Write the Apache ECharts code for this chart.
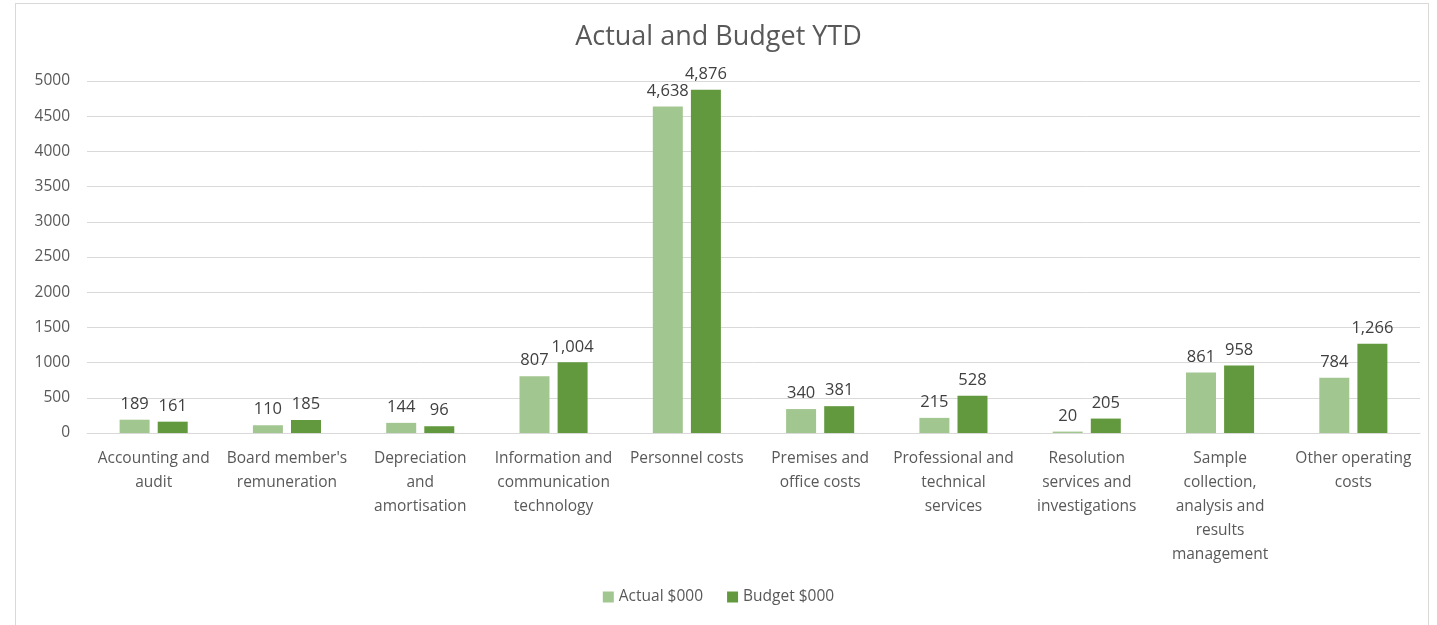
<!DOCTYPE html>
<html><head><meta charset="utf-8">
<script src="https://cdn.jsdelivr.net/npm/echarts@6/dist/echarts.min.js"></script>
<style>
html,body{margin:0;padding:0;background:#fff;}
#frame{position:absolute;left:15px;top:3px;width:1414px;height:640px;border:1px solid #d9d9d9;box-sizing:border-box;}
#c{position:absolute;left:0;top:0;width:1437px;height:625px;}
</style></head>
<body>
<div id="frame"></div>
<div id="c"></div>
<script>
const categories = [
  "Accounting and\naudit",
  "Board member's\nremuneration",
  "Depreciation\nand\namortisation",
  "Information and\ncommunication\ntechnology",
  "Personnel costs",
  "Premises and\noffice costs",
  "Professional and\ntechnical\nservices",
  "Resolution\nservices and\ninvestigations",
  "Sample\ncollection,\nanalysis and\nresults\nmanagement",
  "Other operating\ncosts"
];
const actual = [189, 110, 144, 807, 4638, 340, 215, 20, 861, 784];
const budget = [161, 185, 96, 1004, 4876, 381, 528, 205, 958, 1266];
const yTicks = [0, 500, 1000, 1500, 2000, 2500, 3000, 3500, 4000, 4500, 5000];

const font = "'Open Sans', 'Liberation Sans', sans-serif";
const chart = echarts.init(document.getElementById('c'), null, {renderer: 'canvas'});
const fmt = p => p.value.toLocaleString('en-US');
chart.setOption({
  animation: false,
  title: {
    text: 'Actual and Budget YTD', left: 'center', top: 19,
    textStyle: {fontFamily: font, fontSize: 27, fontWeight: 'normal', color: '#595959'}
  },
  legend: {
    bottom: 15, left: 'center', itemWidth: 11, itemHeight: 11, itemGap: 24,
    icon: 'rect',
    textStyle: {fontFamily: font, fontSize: 15.5, color: '#595959'}
  },
  grid: {left: 87, right: 17, top: 81, bottom: 192, containLabel: false},
  xAxis: {
    type: 'category', data: categories,
    axisLine: {lineStyle: {color: '#d9d9d9', width: 1}},
    axisTick: {show: false},
    axisLabel: {interval: 0, fontFamily: font, fontSize: 15.5, color: '#595959', lineHeight: 24, margin: 14}
  },
  yAxis: {
    type: 'value', min: yTicks[0], max: yTicks[yTicks.length - 1], interval: 500,
    axisLine: {show: false}, axisTick: {show: false},
    splitLine: {lineStyle: {color: '#d9d9d9', width: 1}},
    axisLabel: {fontFamily: font, fontSize: 15.5, color: '#595959', margin: 17, formatter: v => String(v)}
  },
  series: [
    {
      name: 'Actual $000', type: 'bar', data: actual, barWidth: '22.5%', barGap: '27%',
      itemStyle: {color: '#a2c68f'},
      label: {show: true, position: 'top', formatter: fmt, fontFamily: font, fontSize: 16.5, color: '#404040', distance: 7}
    },
    {
      name: 'Budget $000', type: 'bar', data: budget, barWidth: '22.5%', barGap: '27%',
      itemStyle: {color: '#62993e'},
      label: {show: true, position: 'top', formatter: fmt, fontFamily: font, fontSize: 16.5, color: '#404040', distance: 7}
    }
  ]
});
</script>
</body></html>
